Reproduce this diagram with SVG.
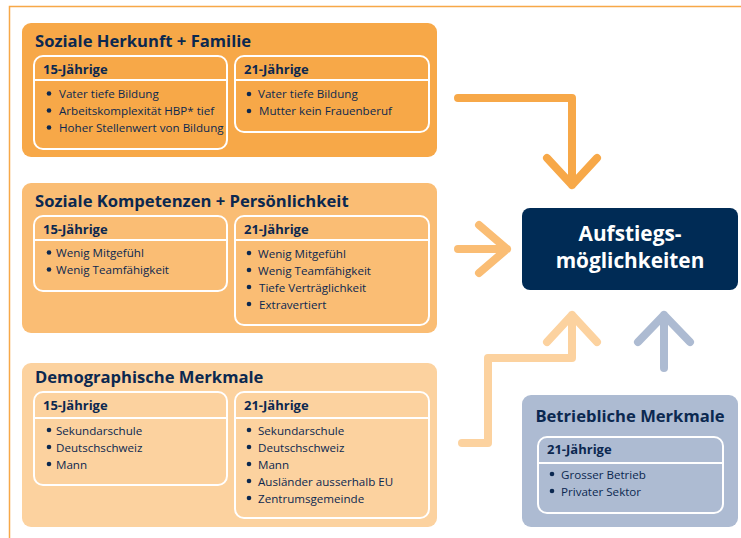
<svg xmlns="http://www.w3.org/2000/svg" width="741" height="538" viewBox="0 0 741 538">
<style>
text{font-family:"Open Sans","Liberation Sans",sans-serif;fill:#0B2850}
.t{font-size:16.6px;font-weight:bold}
.h{font-size:13px;font-weight:bold}
.i{font-size:11.6px}
.w{fill:#fff;font-size:20.8px;font-weight:bold}
.inner{fill:none;stroke:#fff;stroke-width:2}
.div{stroke:#fff;stroke-width:2}
.b{fill:#0B2850}
.arr{fill:none;stroke-width:8;stroke-linecap:round;stroke-linejoin:round}
</style>
<rect width="741" height="538" fill="#fff"/>
<path d="M9.5 538 V6.5 H741" fill="none" stroke="#F7A848" stroke-width="1.5"/>

<g id="herkunft">
<rect x="22" y="23" width="415" height="134" rx="9" fill="#F7A848"/>
<text class="t" x="35" y="47">Soziale Herkunft + Familie</text>
<rect class="inner" x="34" y="56" width="193" height="93" rx="9"/>
<line class="div" x1="34" y1="80" x2="227" y2="80"/>
<text class="h" x="43" y="74">15-Jährige</text>
<circle class="b" cx="49" cy="93.5" r="2.3"/><text class="i" x="59" y="97.5">Vater tiefe Bildung</text>
<circle class="b" cx="49" cy="110.5" r="2.3"/><text class="i" x="59" y="114.5">Arbeitskomplexität HBP* tief</text>
<circle class="b" cx="49" cy="127.5" r="2.3"/><text class="i" x="59" y="131.5">Hoher Stellenwert von Bildung</text>
<rect class="inner" x="235" y="56" width="194" height="76" rx="9"/>
<line class="div" x1="235" y1="80" x2="429" y2="80"/>
<text class="h" x="244" y="74">21-Jährige</text>
<circle class="b" cx="249" cy="94" r="2.3"/><text class="i" x="258" y="98">Vater tiefe Bildung</text>
<circle class="b" cx="249" cy="111" r="2.3"/><text class="i" x="259" y="115">Mutter kein Frauenberuf</text>
</g>

<g id="kompetenzen">
<rect x="22" y="183" width="415" height="150" rx="9" fill="#FABD74"/>
<text class="t" x="35" y="207">Soziale Kompetenzen + Persönlichkeit</text>
<rect class="inner" x="34" y="216" width="193" height="75" rx="9"/>
<line class="div" x1="34" y1="240" x2="227" y2="240"/>
<text class="h" x="43" y="234">15-Jährige</text>
<circle class="b" cx="49" cy="252.5" r="2.3"/><text class="i" x="56" y="257">Wenig Mitgefühl</text>
<circle class="b" cx="49" cy="269.5" r="2.3"/><text class="i" x="56" y="274">Wenig Teamfähigkeit</text>
<rect class="inner" x="235" y="216" width="194" height="109" rx="9"/>
<line class="div" x1="235" y1="240" x2="429" y2="240"/>
<text class="h" x="244" y="234">21-Jährige</text>
<circle class="b" cx="249" cy="253" r="2.3"/><text class="i" x="258" y="257.5">Wenig Mitgefühl</text>
<circle class="b" cx="249" cy="270" r="2.3"/><text class="i" x="258" y="274.5">Wenig Teamfähigkeit</text>
<circle class="b" cx="249" cy="287" r="2.3"/><text class="i" x="259" y="291.5">Tiefe Verträglichkeit</text>
<circle class="b" cx="249" cy="304" r="2.3"/><text class="i" x="259" y="308.5">Extravertiert</text>
</g>

<g id="demographie">
<rect x="22" y="363" width="415" height="164" rx="9" fill="#FCD29F"/>
<text class="t" x="35" y="383">Demographische Merkmale</text>
<rect class="inner" x="34" y="392" width="193" height="93" rx="9"/>
<line class="div" x1="34" y1="418" x2="227" y2="418"/>
<text class="h" x="43" y="410">15-Jährige</text>
<circle class="b" cx="49" cy="430" r="2.3"/><text class="i" x="56" y="434.5">Sekundarschule</text>
<circle class="b" cx="49" cy="447" r="2.3"/><text class="i" x="56" y="451.5">Deutschschweiz</text>
<circle class="b" cx="49" cy="464" r="2.3"/><text class="i" x="56" y="468.5">Mann</text>
<rect class="inner" x="235" y="392" width="194" height="126" rx="9"/>
<line class="div" x1="235" y1="418" x2="429" y2="418"/>
<text class="h" x="244" y="410">21-Jährige</text>
<circle class="b" cx="249" cy="430" r="2.3"/><text class="i" x="258" y="434.5">Sekundarschule</text>
<circle class="b" cx="249" cy="447" r="2.3"/><text class="i" x="258" y="451.5">Deutschschweiz</text>
<circle class="b" cx="249" cy="464" r="2.3"/><text class="i" x="258" y="468.5">Mann</text>
<circle class="b" cx="249" cy="481" r="2.3"/><text class="i" x="258" y="485.5">Ausländer ausserhalb EU</text>
<circle class="b" cx="249" cy="498" r="2.3"/><text class="i" x="258" y="502.5">Zentrumsgemeinde</text>
</g>

<g id="aufstieg">
<rect x="522" y="208" width="216" height="82" rx="8" fill="#002B55"/>
<text class="w" x="630" y="241" text-anchor="middle">Aufstiegs-</text>
<text class="w" x="630" y="268" text-anchor="middle">möglichkeiten</text>
</g>

<g id="betrieb">
<rect x="522" y="395" width="216" height="132" rx="9" fill="#ADBBD2"/>
<text class="t" x="630" y="422" text-anchor="middle">Betriebliche Merkmale</text>
<rect class="inner" x="538" y="437" width="185" height="76" rx="9"/>
<line class="div" x1="538" y1="463" x2="723" y2="463"/>
<text class="h" x="547" y="454">21-Jährige</text>
<circle class="b" cx="552" cy="474" r="2.3"/><text class="i" x="561" y="478.5">Grosser Betrieb</text>
<circle class="b" cx="552" cy="491" r="2.3"/><text class="i" x="561" y="495.5">Privater Sektor</text>
</g>

<g id="connectors">
<path class="arr" stroke="#F7A848" d="M458 98 H572 V185 M547 158 L572 185 L597 158"/>
<path class="arr" stroke="#FABD74" d="M458 249 H507 M479 225 L507 249 L479 273"/>
<path class="arr" stroke="#FCD29F" d="M462 443 H488 V358 H572 V315 M547 342 L572 315 L597 342"/>
<path class="arr" stroke="#ADBBD2" d="M664 368 V315 M638 342 L664 315 L690 342"/>
</g>
</svg>
